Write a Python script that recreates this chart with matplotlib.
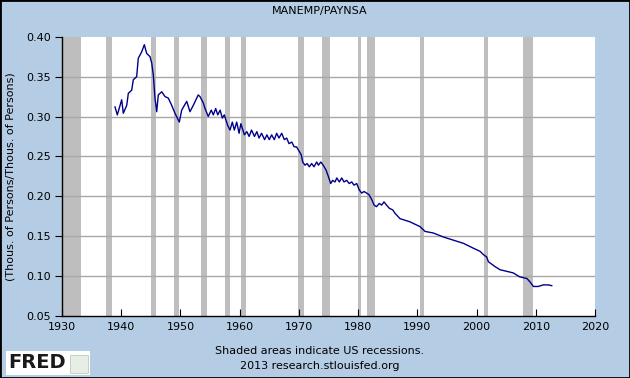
import numpy as np
import matplotlib
matplotlib.use('Agg')
from matplotlib import pyplot as plt
from matplotlib.patches import Rectangle

# manufacturing employment share (MANEMP/PAYNSA)
years = [1938.95, 1939.34, 1940.08, 1940.35, 1940.93, 1941.2, 1941.77, 1942.04,
         1942.61, 1942.88, 1943.46, 1943.9, 1944.3, 1944.86, 1945.15, 1945.42,
         1945.7, 1945.99, 1946.26, 1946.84, 1947.39, 1947.95, 1948.52, 1949.08,
         1949.81, 1950.21, 1951.06, 1951.61, 1952.17, 1953.0, 1953.3, 1953.86,
         1954.15, 1954.7, 1955.2, 1955.55, 1955.95, 1956.3, 1956.7, 1957.07,
         1957.4, 1957.97, 1958.37, 1958.76, 1959.1, 1959.5, 1959.9, 1960.2,
         1960.8, 1961.2, 1961.6, 1962.0, 1962.5, 1962.9, 1963.27, 1963.7,
         1964.2, 1964.6, 1965.0, 1965.4, 1965.85, 1966.25, 1966.64, 1967.1,
         1967.54, 1967.94, 1968.33, 1968.8, 1969.2, 1969.6, 1970.07, 1970.4,
         1970.64, 1971.03, 1971.4, 1971.76, 1972.16, 1972.55, 1973.0, 1973.3,
         1973.7, 1974.1, 1974.58, 1974.97, 1975.37, 1975.7, 1976.1, 1976.4,
         1976.83, 1977.23, 1977.62, 1978.07, 1978.5, 1978.92, 1979.3, 1979.76,
         1980.2, 1980.6, 1981.0, 1981.45, 1981.84, 1982.3, 1982.7, 1983.1,
         1983.58, 1983.98, 1984.37, 1984.8, 1985.27, 1985.84, 1986.2, 1987.07,
         1988.76, 1990.45, 1991.3, 1992.7, 1994.4, 1996.1, 1997.8, 1999.45,
         2000.6, 2001.14, 2001.7, 2002.0, 2003.1, 2003.96, 2005.1, 2006.2,
         2007.3, 2008.5, 2009.0, 2009.6, 2010.4, 2011.27, 2012.1, 2012.7]
ratio = [0.312, 0.302, 0.321, 0.304, 0.314, 0.329, 0.333, 0.346,
         0.350, 0.373, 0.381, 0.390, 0.379, 0.375, 0.367, 0.352,
         0.323, 0.306, 0.327, 0.331, 0.325, 0.323, 0.314, 0.304,
         0.293, 0.308, 0.319, 0.306, 0.314, 0.327, 0.325, 0.317,
         0.310, 0.300, 0.308, 0.302, 0.310, 0.302, 0.308, 0.298,
         0.302, 0.289, 0.283, 0.293, 0.283, 0.293, 0.279, 0.291,
         0.277, 0.281, 0.275, 0.283, 0.275, 0.281, 0.273, 0.279,
         0.271, 0.277, 0.271, 0.277, 0.271, 0.279, 0.273, 0.279,
         0.271, 0.273, 0.266, 0.268, 0.262, 0.262, 0.256, 0.252,
         0.243, 0.239, 0.241, 0.237, 0.241, 0.237, 0.243, 0.239,
         0.243, 0.239, 0.233, 0.225, 0.216, 0.220, 0.218, 0.223,
         0.218, 0.223, 0.218, 0.220, 0.216, 0.218, 0.214, 0.216,
         0.208, 0.204, 0.206, 0.204, 0.202, 0.196, 0.189, 0.187,
         0.191, 0.189, 0.193, 0.189, 0.185, 0.183, 0.179, 0.172,
         0.168, 0.162, 0.156, 0.154, 0.149, 0.145, 0.141, 0.135,
         0.131, 0.127, 0.124, 0.118, 0.112, 0.108, 0.106, 0.104,
         0.099, 0.097, 0.093, 0.087, 0.087, 0.089, 0.089, 0.088]

# NBER recessions (start, end)
rec_start = [1929.6, 1937.4, 1945.1, 1948.85, 1953.5, 1957.6, 1960.3, 1969.9,
             1973.85, 1980.0, 1981.5, 1990.5, 2001.2, 2007.9]
rec_end = [1933.2, 1938.45, 1945.8, 1949.8, 1954.4, 1958.3, 1961.1, 1970.85,
           1975.2, 1980.5, 1982.85, 1991.2, 2001.85, 2009.45]

bg = '#B4CCE4'
fig = plt.figure(figsize=(6.3, 3.78), dpi=100, facecolor=bg)
ax = fig.add_axes([62 / 630, 1 - 316 / 378, 533 / 630, (316 - 36.7) / 378])
ax.set_facecolor('white')

for s, e in zip(rec_start, rec_end):
    ax.axvspan(s, e, color='#BEBEBE', lw=0, zorder=1)

for yv in [0.10, 0.15, 0.20, 0.25, 0.30, 0.35]:
    ax.axhline(yv, color='#A8A8A8', lw=1, zorder=2)

ax.plot(years, ratio, color='#00008B', lw=1, zorder=3)

ax.set_xlim(1930, 2020)
ax.set_ylim(0.05, 0.40)
ax.set_xticks(range(1930, 2021, 10))
ax.set_yticks([0.05, 0.10, 0.15, 0.20, 0.25, 0.30, 0.35, 0.40])
ax.set_yticklabels(['%.2f' % v for v in ax.get_yticks()])
ax.tick_params(axis='x', direction='in', length=5, labelsize=8, pad=4)
ax.tick_params(axis='y', direction='out', length=5, labelsize=8, pad=3)
for side in ['top', 'right']:
    ax.spines[side].set_visible(False)
ax.spines['left'].set_linewidth(1)
ax.spines['bottom'].set_linewidth(1)

ax.set_ylabel('(Thous. of Persons/Thous. of Persons)', fontsize=8, labelpad=8)
fig.text(0.508, 1 - 11 / 378, 'MANEMP/PAYNSA', ha='center', va='center', fontsize=8)
fig.text(0.508, 1 - 351 / 378, 'Shaded areas indicate US recessions.',
         ha='center', va='center', fontsize=8)
fig.text(0.508, 1 - 366 / 378, '2013 research.stlouisfed.org',
         ha='center', va='center', fontsize=8)

# FRED logo
fig.patches.append(Rectangle((6 / 630, 1 - 375 / 378), 84 / 630, 24 / 378,
                             transform=fig.transFigure, facecolor='white',
                             edgecolor='none'))
fig.text(8 / 630, 1 - 362 / 378, 'FRED', ha='left', va='center', fontsize=14,
         fontweight='bold', color='#1a1a1a')
fig.patches.append(Rectangle((70 / 630, 1 - 373 / 378), 18 / 630, 18 / 378,
                             transform=fig.transFigure, facecolor='#E6EEE6',
                             edgecolor='#B0C4B0', lw=0.5))

# figure border
fig.patches.append(Rectangle((0, 0), 1, 1, transform=fig.transFigure,
                             fill=False, edgecolor='black', lw=2))

plt.savefig('out.png', dpi=100, facecolor=bg)
